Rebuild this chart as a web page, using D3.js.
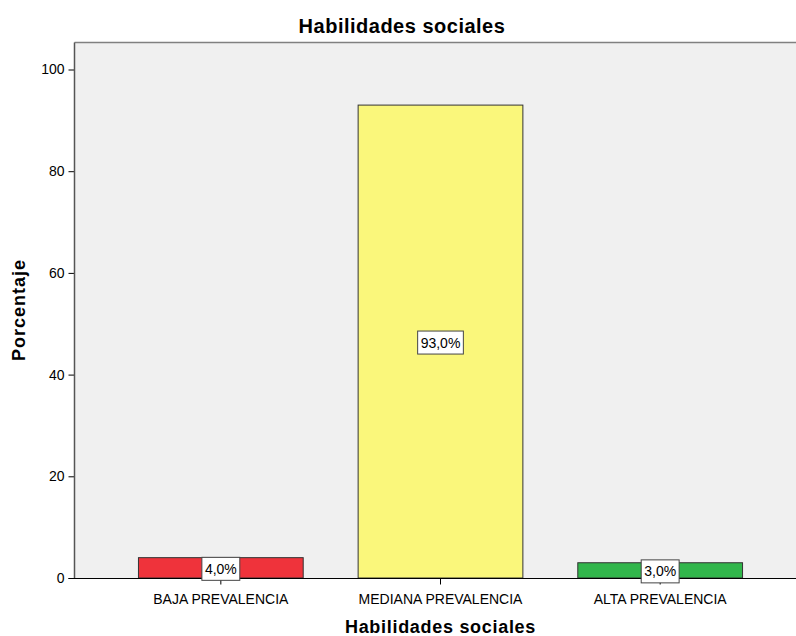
<!DOCTYPE html>
<html lang="es">
<head>
    <meta charset="UTF-8">
    <title>Habilidades sociales</title>
    <script src="https://cdn.jsdelivr.net/npm/d3@7"></script>
    <style>
        body { margin: 0; background: #FFFFFF; }
        text { font-family: "Liberation Sans", Arial, sans-serif; }
    </style>
</head>
<body>
    <div id="canvas"></div>

    <script>
        const categories = ['BAJA PREVALENCIA', 'MEDIANA PREVALENCIA', 'ALTA PREVALENCIA'];
        const percentages = [4.0, 93.0, 3.0];
        const barColors = ['#EF333B', '#FAF77B', '#31B64B'];
        const yTicks = [0, 20, 40, 60, 80, 100];
    </script>

    <script>
        const width = 796;
        const height = 636;
        const plot = { left: 74.5, top: 42.5, right: 796, bottom: 578.5 };
        const tickFont = '"Liberation Sans", Arial, sans-serif';

        const svg = d3.select('#canvas')
            .append('svg')
            .attr('width', width)
            .attr('height', height);

        const x = d3.scaleBand()
            .domain(categories)
            .range([111, 770])
            .paddingInner(0.25)
            .paddingOuter(0.125);

        const y = d3.scaleLinear()
            .domain([0, 100])
            .range([plot.bottom - 0.5, 69.5]);

        // plot background
        svg.append('rect')
            .attr('x', plot.left)
            .attr('y', plot.top)
            .attr('width', plot.right - plot.left)
            .attr('height', plot.bottom - plot.top)
            .attr('fill', '#F0F0F0');

        svg.append('line')
            .attr('x1', plot.left).attr('x2', plot.right)
            .attr('y1', plot.top).attr('y2', plot.top)
            .attr('stroke', '#808080').attr('stroke-width', 1.5);

        // bars
        svg.selectAll('rect.bar')
            .data(percentages)
            .enter()
            .append('rect')
            .attr('class', 'bar')
            .attr('x', (d, i) => x(categories[i]))
            .attr('y', d => y(d))
            .attr('width', x.bandwidth())
            .attr('height', d => y(0) - y(d))
            .attr('fill', (d, i) => barColors[i])
            .attr('stroke', '#333333')
            .attr('stroke-width', 1);

        // y axis
        const yAxis = svg.append('g')
            .attr('transform', `translate(${plot.left},0)`)
            .call(d3.axisLeft(y).tickValues(yTicks).tickSize(6).tickPadding(4));
        yAxis.select('.domain').remove();
        yAxis.selectAll('.tick line').attr('stroke', '#000000');
        yAxis.selectAll('.tick text')
            .attr('font-size', 14)
            .attr('fill', '#000000')
            .style('font-family', tickFont);

        svg.append('line')
            .attr('x1', plot.left).attr('x2', plot.left)
            .attr('y1', plot.top).attr('y2', plot.bottom)
            .attr('stroke', '#555555').attr('stroke-width', 1.5);

        // x axis
        const xAxis = svg.append('g')
            .attr('transform', `translate(0,${plot.bottom})`)
            .call(d3.axisBottom(x).tickSize(6).tickPadding(4));
        xAxis.select('.domain').remove();
        xAxis.selectAll('.tick line').attr('stroke', '#000000');
        xAxis.selectAll('.tick text')
            .attr('y', 25)
            .attr('dy', 0)
            .attr('font-size', 14)
            .attr('fill', '#000000')
            .style('font-family', tickFont);

        svg.append('line')
            .attr('x1', plot.left - 6).attr('x2', plot.right)
            .attr('y1', plot.bottom).attr('y2', plot.bottom)
            .attr('stroke', '#000000').attr('stroke-width', 1);

        // value labels
        const labels = svg.selectAll('g.label')
            .data(percentages)
            .enter()
            .append('g')
            .attr('class', 'label')
            .attr('transform', (d, i) =>
                `translate(${x(categories[i]) + x.bandwidth() / 2},${y(d / 2) + 1})`);

        labels.append('text')
            .attr('text-anchor', 'middle')
            .attr('dy', '0.36em')
            .attr('font-size', 14)
            .attr('fill', '#000000')
            .text(d => d.toFixed(1).replace('.', ',') + '%');

        labels.each(function () {
            const g = d3.select(this);
            const w = g.select('text').node().getComputedTextLength() + 6;
            g.insert('rect', 'text')
                .attr('x', -w / 2)
                .attr('y', -11.5)
                .attr('width', w)
                .attr('height', 23)
                .attr('fill', '#FFFFFF')
                .attr('stroke', '#444444')
                .attr('stroke-width', 1);
        });

        // titles
        svg.append('text')
            .attr('x', 402)
            .attr('y', 32.5)
            .attr('text-anchor', 'middle')
            .attr('font-size', 20)
            .attr('font-weight', 'bold')
            .attr('letter-spacing', 0.5)
            .text('Habilidades sociales');

        svg.append('text')
            .attr('x', 440.5)
            .attr('y', 633)
            .attr('text-anchor', 'middle')
            .attr('font-size', 18)
            .attr('font-weight', 'bold')
            .attr('letter-spacing', 0.7)
            .text('Habilidades sociales');

        svg.append('text')
            .attr('transform', 'translate(25,310) rotate(-90)')
            .attr('text-anchor', 'middle')
            .attr('font-size', 18)
            .attr('font-weight', 'bold')
            .attr('letter-spacing', 1)
            .text('Porcentaje');
    </script>
</body>
</html>
